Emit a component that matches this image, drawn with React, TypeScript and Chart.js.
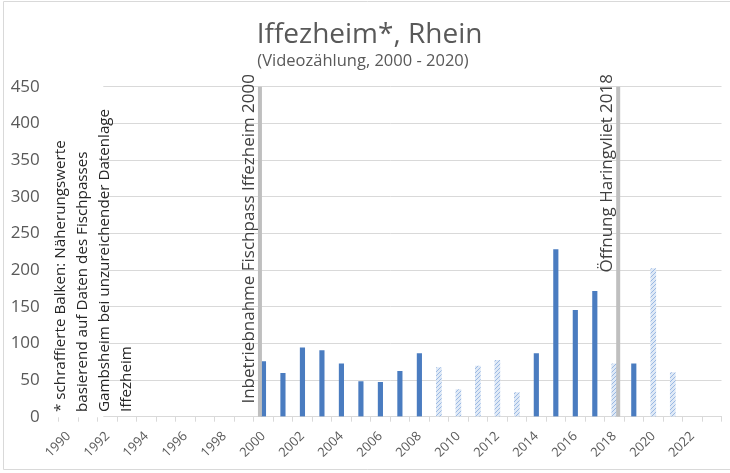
import React, { useEffect, useRef } from 'react';
import { Chart, registerables } from 'chart.js';

Chart.register(...registerables);

// ---- data ----
const years = [
  '1990', '1991', '1992', '1993', '1994', '1995', '1996', '1997', '1998', '1999',
  '2000', '2001', '2002', '2003', '2004', '2005', '2006', '2007', '2008', '2009',
  '2010', '2011', '2012', '2013', '2014', '2015', '2016', '2017', '2018', '2019',
  '2020', '2021', '2022', '2023',
];
const countedYears = ['2000', '2001', '2002', '2003', '2004', '2005', '2006', '2007', '2008', '2014', '2015', '2016', '2017', '2019'];
const countedValues = [75, 59, 94, 90, 72, 48, 47, 62, 86, 86, 228, 145, 171, 72];
const estimatedYears = ['2009', '2010', '2011', '2012', '2013', '2018', '2020', '2021'];
const estimatedValues = [67, 37, 69, 77, 33, 72, 202, 60];
const markerYears = ['2000', '2018'];
const markerLabels = ['Inbetriebnahme Fischpass Iffezheim 2000', 'Öffnung Haringvliet 2018'];
const noteLines = [
  '* schraffierte Balken: Näherungswerte',
  'basierend auf Daten des Fischpasses',
  'Gambsheim bei unzureichender Datenlage',
  'Iffezheim',
];
const titleText = 'Iffezheim*, Rhein';
const subtitleText = '(Videozählung, 2000 - 2020)';
const yMin = 0;
const yMax = 450;
const yStep = 50;

const FONT = "'Open Sans', 'Noto Sans', sans-serif";

function alignTo(keys: string[], vals: number[]): (number | null)[] {
  return years.map((y) => {
    const i = keys.indexOf(y);
    return i >= 0 ? vals[i] : null;
  });
}

function makeHatch(): CanvasPattern | string {
  const c = document.createElement('canvas');
  c.width = 4;
  c.height = 4;
  const g = c.getContext('2d');
  if (!g) return '#c5d7ef';
  g.fillStyle = '#dfe9f6';
  g.fillRect(0, 0, 4, 4);
  g.fillStyle = '#9bb9e3';
  for (let i = 0; i < 4; i++) g.fillRect(i, 3 - i, 1, 1);
  return g.createPattern(c, 'repeat') || '#c5d7ef';
}

const decorPlugin = {
  id: 'decor',
  afterDatasetsDraw(chart: any) {
    const { ctx, chartArea } = chart;
    const xs = chart.scales.x;
    const cat = xs.width / years.length;
    ctx.save();
    // white note box covering the left part of the plot
    ctx.fillStyle = '#ffffff';
    ctx.fillRect(chartArea.left - 1, chartArea.top - 2, 45.5, chartArea.bottom - chartArea.top + 2.6);

    // marker lines
    const shifts = [-0.18, 0.2];
    markerYears.forEach((yr, k) => {
      const idx = years.indexOf(yr);
      const x = xs.getPixelForValue(idx) + shifts[k] * cat;
      ctx.fillStyle = '#bfbfbf';
      ctx.fillRect(x - 2, chartArea.top, 4, chartArea.bottom - chartArea.top);
      ctx.save();
      ctx.translate(x - 6, 74);
      ctx.rotate(-Math.PI / 2);
      ctx.font = `17px ${FONT}`;
      ctx.fillStyle = '#404040';
      ctx.textAlign = 'right';
      ctx.textBaseline = 'alphabetic';
      ctx.fillText(markerLabels[k], 0, 0);
      ctx.restore();
    });

    // note lines
    noteLines.forEach((line, i) => {
      ctx.save();
      ctx.translate(64.5 + i * 22.3, 412);
      ctx.rotate(-Math.PI / 2);
      ctx.font = `15.2px ${FONT}`;
      ctx.fillStyle = '#262626';
      ctx.textAlign = 'left';
      ctx.textBaseline = 'alphabetic';
      ctx.fillText(line, 0, 0);
      ctx.restore();
    });
    ctx.restore();
  },
  afterDraw(chart: any) {
    const { ctx } = chart;
    ctx.save();
    ctx.fillStyle = '#595959';
    ctx.textAlign = 'center';
    ctx.textBaseline = 'alphabetic';
    ctx.font = `28px ${FONT}`;
    ctx.fillText(titleText, 369.5, 43);
    ctx.font = `16.5px ${FONT}`;
    ctx.fillText(subtitleText, 363, 66);
    // chart frame
    ctx.strokeStyle = '#d9d9d9';
    ctx.lineWidth = 1;
    ctx.beginPath();
    ctx.moveTo(731, 1.5);
    ctx.lineTo(3.5, 1.5);
    ctx.lineTo(3.5, 469.5);
    ctx.lineTo(731, 469.5);
    ctx.stroke();
    ctx.restore();
  },
};

export default function App() {
  const ref = useRef<HTMLCanvasElement | null>(null);

  useEffect(() => {
    document.body.style.margin = '0';
    const canvas = ref.current;
    if (!canvas) return;
    const hatch = makeHatch();
    const chart = new Chart(canvas, {
      type: 'bar',
      data: {
        labels: years,
        datasets: [
          {
            label: 'Videozählung',
            data: alignTo(countedYears, countedValues),
            backgroundColor: '#4a7cc0',
            barThickness: 4.5,
            grouped: false,
          } as any,
          {
            label: 'Näherungswerte',
            data: alignTo(estimatedYears, estimatedValues),
            backgroundColor: hatch as any,
            barThickness: 5,
            grouped: false,
          } as any,
        ],
      },
      options: {
        responsive: false,
        maintainAspectRatio: false,
        devicePixelRatio: 1,
        animation: false,
        layout: { padding: { top: 86.7, left: 0, right: 8.5, bottom: 16.3 } },
        plugins: {
          legend: { display: false },
          tooltip: { enabled: false },
          title: { display: false },
        },
        scales: {
          x: {
            offset: true,
            grid: {
              display: true,
              drawOnChartArea: false,
              drawTicks: true,
              tickLength: 5,
              color: '#d9d9d9',
              offset: true,
            },
            border: { display: true, color: '#d9d9d9' },
            ticks: {
              autoSkip: false,
              maxRotation: 45,
              minRotation: 45,
              color: '#595959',
              padding: 7,
              font: { family: FONT, size: 13 },
              callback: (_v: any, i: number) => (i % 2 === 0 ? years[i] : ''),
            },
            afterFit: (s: any) => {
              s.height = 40;
            },
          },
          y: {
            min: yMin,
            max: yMax,
            ticks: {
              stepSize: yStep,
              color: '#595959',
              padding: 19,
              font: { family: FONT, size: 17 },
            },
            grid: { color: '#d9d9d9', drawTicks: false },
            border: { display: false },
            afterFit: (s: any) => {
              s.width = 58.8;
            },
          },
        },
      } as any,
      plugins: [decorPlugin],
    });
    return () => chart.destroy();
  }, []);

  return (
    <div style={{ width: 730, height: 473, background: '#ffffff' }}>
      <canvas ref={ref} width={730} height={473} style={{ display: 'block' }} />
    </div>
  );
}
